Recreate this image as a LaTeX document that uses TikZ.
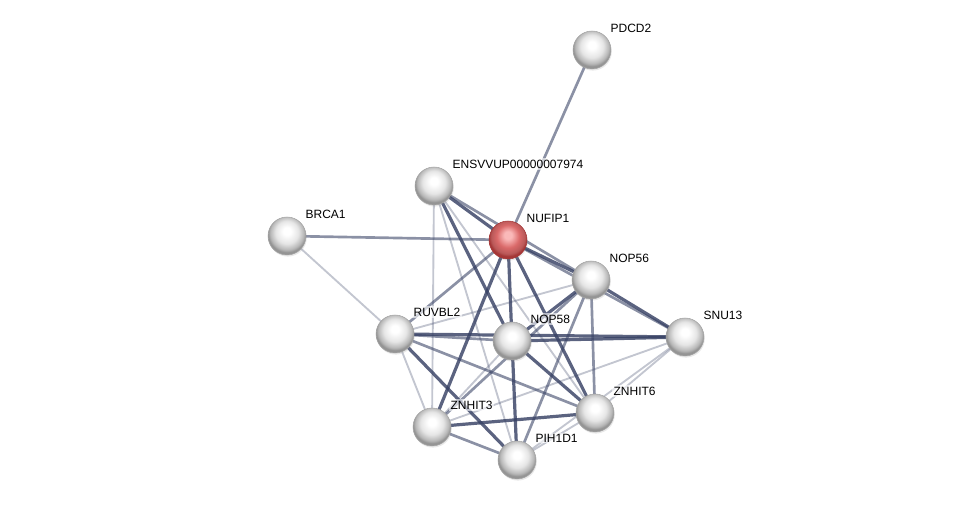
\documentclass[tikz,border=0pt]{standalone}
\usepackage{fontspec}
\setmainfont{Liberation Sans}
\usepackage{tikz}
\usetikzlibrary{calc, backgrounds, shadows}

\definecolor{edgeblue}{RGB}{55,65,100}
\definecolor{redlite}{RGB}{250,185,185}
\definecolor{redbody}{RGB}{218,105,105}
\definecolor{redrim}{RGB}{165,55,55}
\pgfdeclareradialshading{greyball}{\pgfpoint{0bp}{7bp}}{%
  color(0bp)=(white); color(5bp)=(white); color(15bp)=(black!10);
  color(22bp)=(black!28); color(25bp)=(black!42); color(50bp)=(black!42)}
\pgfdeclareradialshading{redball}{\pgfpoint{0bp}{7bp}}{%
  color(0bp)=(redlite); color(5bp)=(redlite); color(15bp)=(redbody);
  color(22bp)=(redbody!85!black); color(25bp)=(redrim); color(50bp)=(redrim)}

\begin{document}
\begin{tikzpicture}[x=0.75pt, y=-0.75pt,
  prot/.style={circle, minimum size=28.5pt, inner sep=0pt, shading=greyball, draw=black!35, line width=0.4pt,
    drop shadow={opacity=0.18, shadow xshift=0.6pt, shadow yshift=-1.2pt}},
  hub/.style={prot, shading=redball, draw=redrim},
  lbl/.style={font=\fontsize{9}{10}\selectfont, anchor=west, inner sep=1pt, fill=white, fill opacity=0.6, text opacity=1},
  strong/.style={draw=edgeblue, line width=2.4pt, draw opacity=0.82},
  mid/.style={draw=edgeblue, line width=2pt, draw opacity=0.58},
  weak/.style={draw=edgeblue, line width=1.4pt, draw opacity=0.3}
]
  \useasboundingbox (0,0) rectangle (976,505);

  % proteins
  \node[prot] (pdcd2) at (592,50) {};
  \node[prot] (ensv) at (434,186) {};
  \node[hub] (nufip1) at (508,240) {};
  \node[prot] (brca1) at (287,236) {};
  \node[prot] (nop56) at (591,280) {};
  \node[prot] (snu13) at (685,337) {};
  \node[prot] (ruvbl2) at (395,334) {};
  \node[prot] (nop58) at (512,341) {};
  \node[prot] (znhit3) at (432,427) {};
  \node[prot] (znhit6) at (595,413) {};
  \node[prot] (pih1d1) at (517,460) {};

  % names
  \foreach \p/\t in {pdcd2/PDCD2, ensv/ENSVVUP00000007974, nufip1/NUFIP1, brca1/BRCA1,
                      nop56/NOP56, snu13/SNU13, ruvbl2/RUVBL2, nop58/NOP58,
                      znhit3/ZNHIT3, znhit6/ZNHIT6, pih1d1/PIH1D1}
    \node[lbl] (\p-name) at ($(\p)+(17,-22)$) {\t};

  % interactions
  \begin{scope}[on background layer]
    \foreach \a/\b in {ensv/nufip1, ensv/nop58, nufip1/nop56, nufip1/nop58, nufip1/znhit3,
                       nufip1/znhit6, nop56/snu13, nop56/nop58, ruvbl2/snu13, ruvbl2/pih1d1,
                       nop58/snu13, nop58/pih1d1, nop58/znhit6, znhit3/znhit6}
      \draw[strong] (\a.center) -- (\b.center);
    \foreach \a/\b in {pdcd2/nufip1, brca1/nufip1, ensv/nop56, nufip1/snu13, nufip1/ruvbl2,
                       nop56/znhit3, nop56/znhit6, nop56/pih1d1, ruvbl2/nop58, ruvbl2/znhit6,
                       znhit3/pih1d1}
      \draw[mid] (\a.center) -- (\b.center);
    \foreach \a/\b in {brca1/ruvbl2, ensv/znhit3, ensv/znhit6, ensv/pih1d1, nop56/ruvbl2,
                       ruvbl2/znhit3, nop58/znhit3, znhit3/snu13, znhit6/snu13, znhit6/pih1d1,
                       pih1d1/snu13}
      \draw[weak] (\a.center) -- (\b.center);
  \end{scope}
\end{tikzpicture}
\end{document}
